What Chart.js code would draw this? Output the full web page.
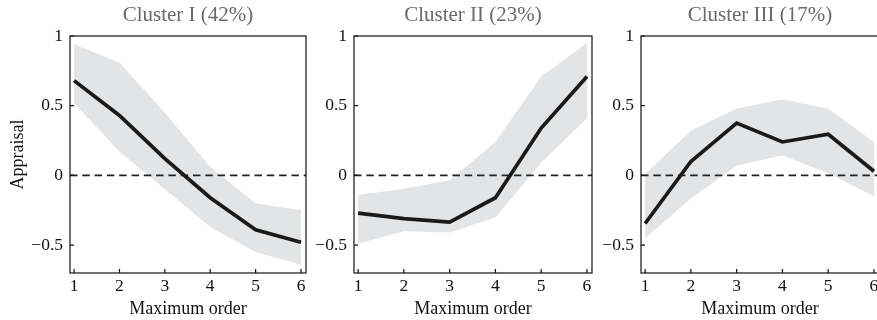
<!DOCTYPE html>
<html lang="en">
<head>
  <meta charset="UTF-8">
  <title>Appraisal by cluster</title>
  <script src="https://cdn.jsdelivr.net/npm/chart.js"></script>
  <style>
    html, body { margin: 0; padding: 0; background: #fff; }
    body { width: 877px; height: 320px; overflow: hidden; position: relative; }
    .panel { position: absolute; top: 0; height: 320px; }
  </style>
</head>
<body>
  <div class="panel" id="p1" style="left:0px;width:312px"><canvas id="c1"></canvas></div>
  <div class="panel" id="p2" style="left:284px;width:314px"><canvas id="c2"></canvas></div>
  <div class="panel" id="p3" style="left:571px;width:314px"><canvas id="c3"></canvas></div>

  <script>
    // x values (maximum order)
    const orders = [1, 2, 3, 4, 5, 6];
    const yTicks = [-0.5, 0, 0.5, 1];

    const titles = ['Cluster I (42%)', 'Cluster II (23%)', 'Cluster III (17%)'];

    // Cluster I
    const c1Mean  = [0.68, 0.43, 0.12, -0.16, -0.39, -0.48];
    const c1Upper = [0.94, 0.81, 0.45, 0.06, -0.20, -0.25];
    const c1Lower = [0.52, 0.17, -0.10, -0.37, -0.55, -0.64];

    // Cluster II
    const c2Mean  = [-0.27, -0.31, -0.335, -0.16, 0.34, 0.71];
    const c2Upper = [-0.14, -0.095, -0.035, 0.24, 0.71, 0.95];
    const c2Lower = [-0.49, -0.40, -0.41, -0.30, 0.09, 0.41];

    // Cluster III
    const c3Mean  = [-0.345, 0.10, 0.375, 0.24, 0.295, 0.03];
    const c3Upper = [0.01, 0.32, 0.48, 0.545, 0.48, 0.24];
    const c3Lower = [-0.45, -0.165, 0.07, 0.145, 0.015, -0.15];

    const FONT = "'Liberation Serif', 'DejaVu Serif', serif";

    // box around plot + inward ticks + dashed zero line (between band and mean line)
    const framePlugin = {
      id: 'frame',
      beforeDatasetDraw(chart, args) {
        if (args.index !== 2) return;
        const ctx = chart.ctx, a = chart.chartArea;
        const y0 = chart.scales.y.getPixelForValue(0);
        ctx.save();
        ctx.strokeStyle = '#222';
        ctx.lineWidth = 1.6;
        ctx.setLineDash([7.5, 4.8]);
        ctx.beginPath();
        ctx.moveTo(a.left, y0);
        ctx.lineTo(a.right, y0);
        ctx.stroke();
        ctx.restore();
      },
      afterDatasetsDraw(chart) {
        const ctx = chart.ctx, a = chart.chartArea;
        const xs = chart.scales.x, ys = chart.scales.y;
        ctx.save();
        ctx.strokeStyle = '#111';
        ctx.lineWidth = 1.2;
        ctx.strokeRect(a.left, a.top, a.right - a.left, a.bottom - a.top);
        ctx.beginPath();
        xs.ticks.forEach((t, i) => {
          const px = xs.getPixelForTick(i);
          ctx.moveTo(px, a.bottom);
          ctx.lineTo(px, a.bottom - 4);
        });
        ys.ticks.forEach((t, i) => {
          const py = ys.getPixelForTick(i);
          ctx.moveTo(a.left, py);
          ctx.lineTo(a.left + 4, py);
        });
        ctx.stroke();
        ctx.restore();
      }
    };

    function makeChart(id, title, mean, upper, lower, showYTitle) {
      const pts = arr => arr.map((v, i) => ({ x: orders[i], y: v }));
      return new Chart(document.getElementById(id), {
        type: 'line',
        data: {
          datasets: [
            {
              data: pts(upper),
              borderWidth: 0,
              pointRadius: 0,
              backgroundColor: '#e3e4e6',
              fill: '+1',
              order: 3
            },
            {
              data: pts(lower),
              borderWidth: 0,
              pointRadius: 0,
              fill: false,
              order: 2
            },
            {
              data: pts(mean),
              borderColor: '#1a1a1a',
              borderWidth: 3.7,
              pointRadius: 0,
              fill: false,
              tension: 0,
              borderJoinStyle: 'miter',
              order: 1
            }
          ]
        },
        options: {
          responsive: true,
          maintainAspectRatio: false,
          animation: false,
          layout: { padding: { left: 0, right: 6, top: 0, bottom: 0 } },
          plugins: {
            legend: { display: false },
            tooltip: { enabled: false },
            title: {
              display: true,
              text: title,
              fullSize: false,
              color: '#6a6a6a',
              font: { family: FONT, size: 21, lineHeight: 1, weight: 'normal' },
              padding: { top: 5, bottom: 10 }
            }
          },
          scales: {
            x: {
              type: 'linear',
              min: 0.91,
              max: 6.11,
              afterBuildTicks: s => { s.ticks = orders.map(v => ({ value: v })); },
              afterFit: s => { s.height = 47; },
              grid: { display: false, drawTicks: false },
              border: { display: false },
              ticks: {
                color: '#111',
                padding: 3,
                maxRotation: 0,
                font: { family: FONT, size: 17.5 }
              },
              title: {
                display: true,
                text: 'Maximum order',
                color: '#111',
                padding: { top: 0, bottom: 0 },
                font: { family: FONT, size: 18 }
              }
            },
            y: {
              type: 'linear',
              min: -0.7,
              max: 1,
              afterBuildTicks: s => { s.ticks = yTicks.map(v => ({ value: v })); },
              afterFit: s => { s.width = 70; },
              grid: { display: false, drawTicks: false },
              border: { display: false },
              ticks: {
                color: '#111',
                padding: 7,
                font: { family: FONT, size: 17.5 },
                callback: v => (v < 0 ? '\u2212' + Math.abs(v) : String(v))
              },
              title: {
                display: showYTitle,
                text: 'Appraisal',
                color: '#111',
                padding: { top: 7, bottom: 0 },
                font: { family: FONT, size: 18 }
              }
            }
          }
        },
        plugins: [framePlugin]
      });
    }

    makeChart('c1', titles[0], c1Mean, c1Upper, c1Lower, true);
    makeChart('c2', titles[1], c2Mean, c2Upper, c2Lower, false);
    makeChart('c3', titles[2], c3Mean, c3Upper, c3Lower, false);
  </script>
</body>
</html>
